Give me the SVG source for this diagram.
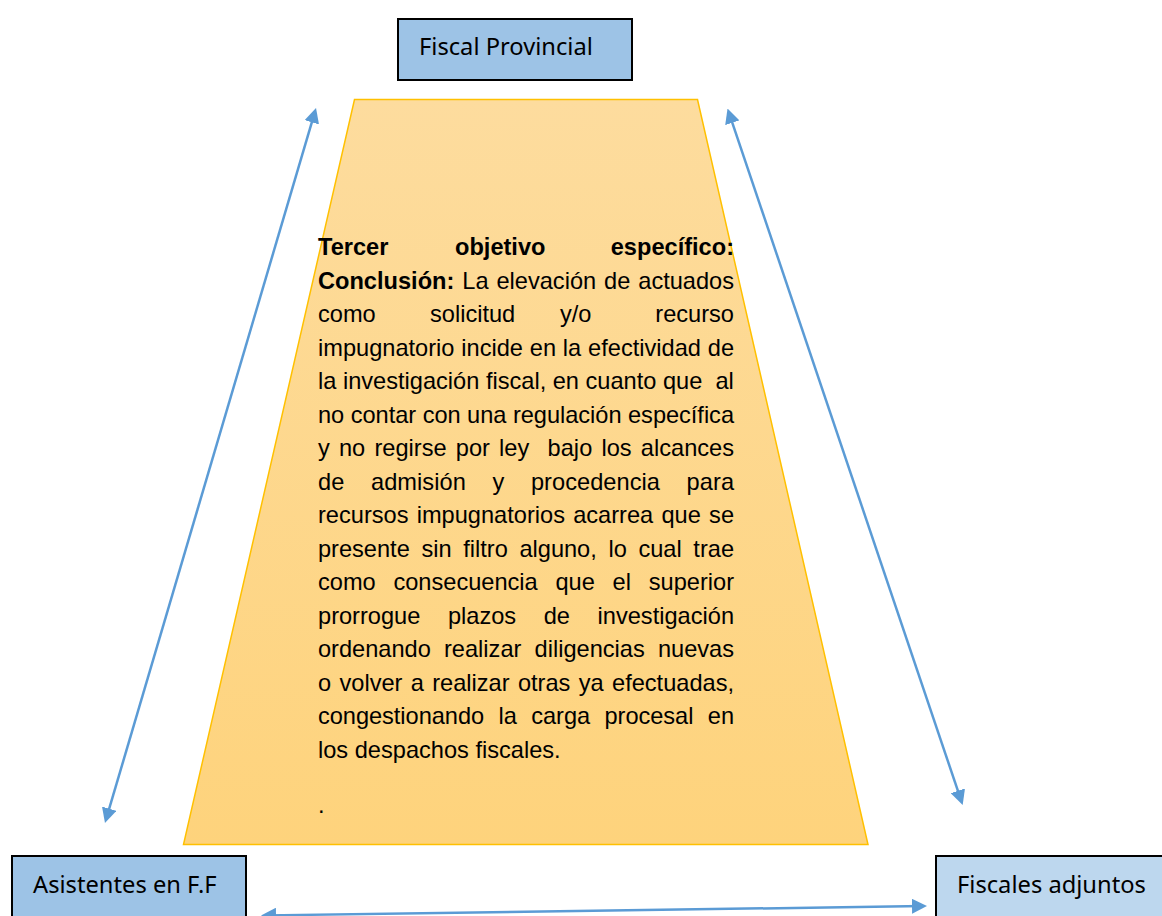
<svg xmlns="http://www.w3.org/2000/svg" width="1162" height="916" viewBox="0 0 1162 916">
<style>
.box{stroke:#000;stroke-width:2}
.lbl{font-family:"Noto Sans","Open Sans",sans-serif;font-size:23.7px;fill:#000}
.t{font-family:"Liberation Sans",Arial,sans-serif;font-size:23.6px;fill:#000}
.b{font-weight:bold}
.conn{stroke:#5B9BD5;stroke-width:2.5;fill:none;marker-start:url(#ah);marker-end:url(#ah)}
</style>
<defs>
<linearGradient id="gold" x1="0" y1="0" x2="0" y2="1">
<stop offset="0" stop-color="#FDDC9E"/>
<stop offset="1" stop-color="#FED37C"/>
</linearGradient>
<marker id="ah" markerUnits="userSpaceOnUse" markerWidth="15" markerHeight="15" viewBox="0 0 15 15" refX="11" refY="7.5" orient="auto-start-reverse">
<path d="M0,0 L15,7.5 L0,15 z" fill="#5B9BD5"/>
</marker>
</defs>
<rect width="1162" height="916" fill="#fff"/>
<g id="trapecio">
<polygon points="354.5,99.5 697.5,99.5 868,844.5 183.5,844.5" fill="url(#gold)" stroke="#FFC000" stroke-width="1.5"/>
<text class="t b" x="318" y="255">Tercer</text>
<text class="t b" x="455" y="255">objetivo</text>
<text class="t b" x="734" y="255" text-anchor="end">específico:</text>
<text class="t" x="318" y="288.5" word-spacing="1.4" textLength="416" lengthAdjust="spacing"><tspan class="b">Conclusión:</tspan> La elevación de actuados</text>
<text class="t" x="318" y="322">como</text>
<text class="t" x="430" y="322">solicitud</text>
<text class="t" x="560" y="322">y/o</text>
<text class="t" x="734" y="322" text-anchor="end">recurso</text>
<text class="t" x="318" y="355.5" word-spacing="0.3" textLength="416" lengthAdjust="spacing">impugnatorio incide en la efectividad de</text>
<text class="t" x="318" y="389" xml:space="preserve" style="white-space:pre">la investigación fiscal, en cuanto que  al</text>
<text class="t" x="318" y="422.5" textLength="416" lengthAdjust="spacing">no contar con una regulación específica</text>
<text class="t" x="318" y="456" xml:space="preserve" style="white-space:pre" word-spacing="2.6" textLength="416" lengthAdjust="spacing">y no regirse por ley  bajo los alcances</text>
<text class="t" x="318" y="489.5" word-spacing="20" textLength="416" lengthAdjust="spacing">de admisión y procedencia para</text>
<text class="t" x="318" y="523" word-spacing="1.7" textLength="416" lengthAdjust="spacing">recursos impugnatorios acarrea que se</text>
<text class="t" x="318" y="556.5" word-spacing="5.1" textLength="416" lengthAdjust="spacing">presente sin filtro alguno, lo cual trae</text>
<text class="t" x="318" y="590" word-spacing="11.2" textLength="416" lengthAdjust="spacing">como consecuencia que el superior</text>
<text class="t" x="318" y="623.5" word-spacing="21" textLength="416" lengthAdjust="spacing">prorrogue plazos de investigación</text>
<text class="t" x="318" y="657" word-spacing="6.6" textLength="416" lengthAdjust="spacing">ordenando realizar diligencias nuevas</text>
<text class="t" x="318" y="690.5" word-spacing="1.8" textLength="416" lengthAdjust="spacing">o volver a realizar otras ya efectuadas,</text>
<text class="t" x="318" y="724" word-spacing="7.9" textLength="416" lengthAdjust="spacing">congestionando la carga procesal en</text>
<text class="t" x="318" y="757.5">los despachos fiscales.</text>
<text class="t" x="318" y="813">.</text>
</g>
<g id="fiscal-provincial">
<rect class="box" x="398" y="19" width="234" height="61" fill="#9DC3E6"/>
<text class="lbl" x="419" y="55">Fiscal Provincial</text>
</g>
<g id="asistentes">
<rect class="box" x="12" y="856" width="234" height="70" fill="#9DC3E6"/>
<text class="lbl" x="33" y="893">Asistentes en F.F</text>
</g>
<g id="fiscales-adjuntos">
<rect class="box" x="936" y="856" width="240" height="70" fill="#BDD7EE"/>
<text class="lbl" x="957" y="893">Fiscales adjuntos</text>
</g>
<g id="connectors">
<line class="conn" x1="314.9" y1="111.8" x2="106.1" y2="819.2"/>
<line class="conn" x1="728.8" y1="112.3" x2="961.4" y2="801.2"/>
<line class="conn" x1="265" y1="915.4" x2="923" y2="906.1"/>
</g>
</svg>
